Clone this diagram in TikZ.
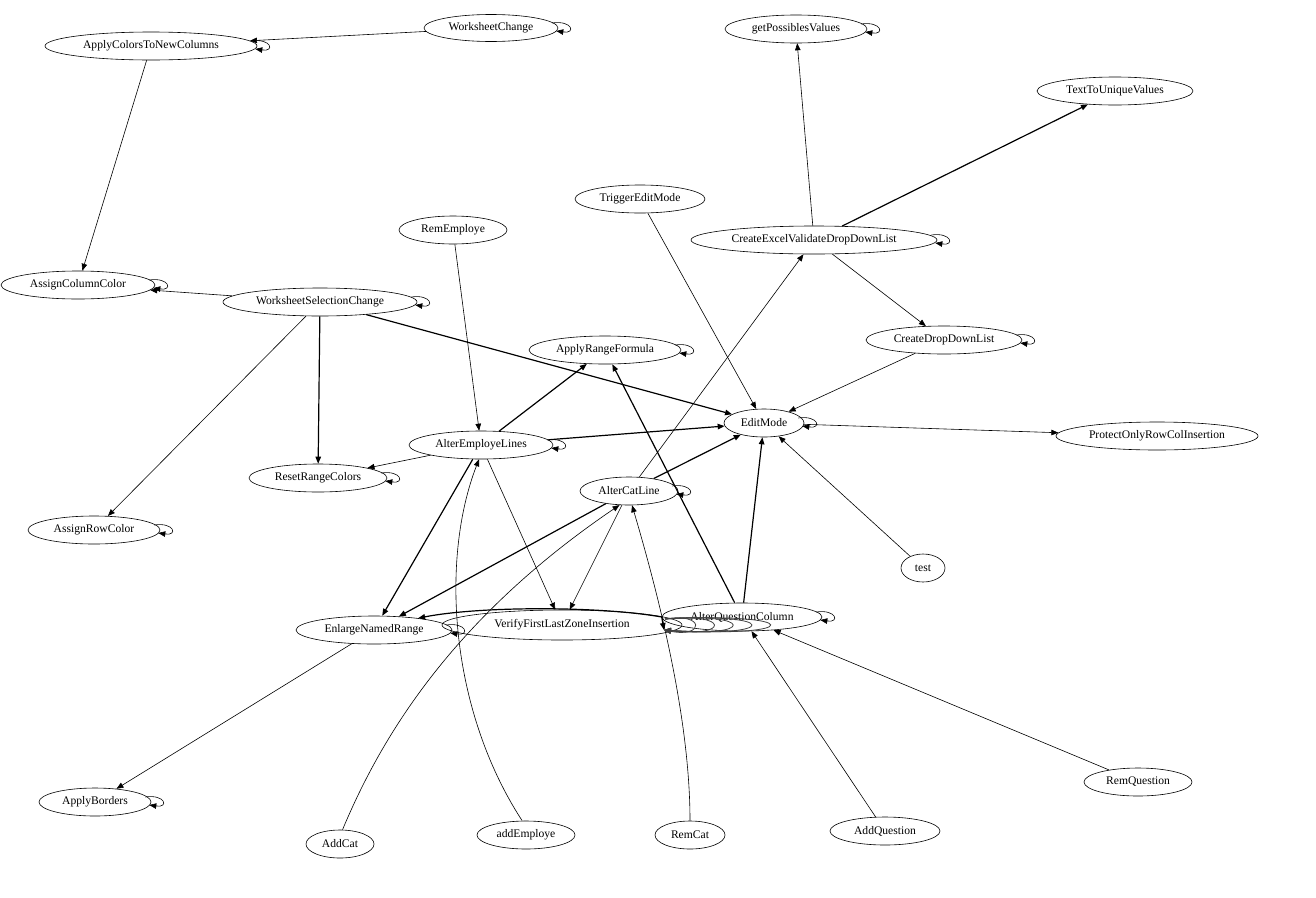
\documentclass[tikz,border=0pt]{standalone}
\usepackage{fontspec}
\setmainfont{Liberation Serif}
\usetikzlibrary{shapes.geometric,arrows.meta}
\tikzset{
 nd/.style={draw, ellipse, inner sep=0pt, line width=0.6pt, font=\fontsize{11.6}{13}\selectfont},
 edge/.style={line width=0.6pt, -{Triangle[length=7pt,width=5.5pt]}},
 bold/.style={edge, line width=1.2pt},
}
\newcommand\mknode[5]{\node[nd,minimum width=#4pt,minimum height=#5pt] (#1) at (#2) {#3};}
\newcommand\selfloop[1]{\draw[edge] ([xshift=-6pt,yshift=5pt]#1.east) .. controls +(20,-3) and +(20,3) .. ([xshift=-2pt,yshift=-3pt]#1.east);}
\begin{document}
\begin{tikzpicture}[x=1pt,y=-1pt]
\useasboundingbox (0,0) rectangle (1316,897);
\mknode{wc}{491,28}{WorksheetChange}{134}{27}
\mknode{actnc}{151,46}{ApplyColorsToNewColumns}{212}{28}
\mknode{gpv}{796,29}{getPossiblesValues}{142}{28}
\mknode{ttuv}{1115,91}{TextToUniqueValues}{156}{28}
\mknode{tem}{640,199}{TriggerEditMode}{130}{28}
\mknode{re}{453,230}{RemEmploye}{108}{28}
\mknode{cevd}{814,240}{CreateExcelValidateDropDownList}{246}{28}
\mknode{acc}{78,285}{AssignColumnColor}{154}{28}
\mknode{wsc}{320,302}{WorksheetSelectionChange}{194}{28}
\mknode{cddl}{944,340}{CreateDropDownList}{156}{28}
\mknode{arf}{605,350}{ApplyRangeFormula}{152}{28}
\mknode{em}{764,423}{EditMode}{80}{28}
\mknode{porc}{1157,436}{ProtectOnlyRowColInsertion}{202}{28}
\mknode{ael}{481,445}{AlterEmployeLines}{144}{28}
\mknode{rrc}{318,478}{ResetRangeColors}{138}{28}
\mknode{acl}{629,491}{AlterCatLine}{98}{28}
\mknode{arc}{94,530}{AssignRowColor}{132}{28}
\mknode{test}{923,568}{test}{44}{28}
\mknode{enr}{374,630}{EnlargeNamedRange}{156}{28}
\mknode{vflzi}{562,625}{VerifyFirstLastZoneInsertion}{240}{30}
\mknode{aqc}{742,617}{AlterQuestionColumn}{160}{28}
\mknode{ab}{95,802}{ApplyBorders}{112}{28}
\mknode{addcat}{340,844}{AddCat}{68}{28}
\mknode{adde}{526,835}{addEmploye}{98}{28}
\mknode{remcat}{690,835}{RemCat}{70}{28}
\mknode{addq}{885,831}{AddQuestion}{110}{28}
\mknode{remq}{1138,782}{RemQuestion}{108}{28}
\coordinate (vin) at (664,630);
\coordinate (aqs) at (665,619);
% edges
\draw[edge] (wc) -- (actnc);
\draw[edge] (actnc) -- (acc);
\draw[edge] (cevd) -- (gpv);
\draw[bold] (cevd) -- (ttuv);
\draw[edge] (cevd) -- (cddl);
\draw[edge] (cddl) -- (em);
\draw[edge] (tem) -- (em);
\draw[edge] (re) -- (ael);
\draw[edge] (wsc) -- (acc);
\draw[bold] (wsc) -- (rrc);
\draw[edge] (wsc) -- (arc);
\draw[bold] (wsc) -- (em);
\draw[bold] (ael) -- (arf);
\draw[bold] (ael) -- (em);
\draw[edge] (ael) -- (rrc);
\draw[bold] (ael) -- (enr);
\draw[edge] (ael) -- (vflzi);
\draw[edge] (adde.105) .. controls (450,710) and (440,560) .. (ael.262);
\draw[edge] (em) -- (porc);
\draw[edge] (test) -- (em);
\draw[bold] (acl) -- (em);
\draw[edge] (acl) -- (cevd);
\draw[edge] (acl) -- (vflzi);
\draw[bold] (acl) -- (enr);
\draw[edge] (addcat.80) .. controls (380,740) and (450,620) .. (acl.236);
\draw[edge] (remcat.north) .. controls (690,720) and (660,600) .. (acl.282);
\draw[bold] (aqc) -- (arf);
\draw[bold] (aqc) -- (em);
\draw[bold] (aqc.west) .. controls (600,606) and (480,606) .. (enr.15);
\foreach \xr in {705,730,755,780,805}{
  \draw[edge, line width=0.8pt, black!75] (aqs) .. controls (\xr,612) and (\xr,638) .. (vin);
}
\draw[bold] (aqc.west) -- (vin);
\draw[edge] (addq) -- (aqc);
\draw[edge] (remq) -- (aqc);
\draw[edge] (enr) -- (ab);
% self loops
\foreach \n in {wc,actnc,gpv,cevd,acc,wsc,cddl,arf,em,ael,rrc,acl,arc,enr,aqc,ab}{\selfloop{\n}}
\end{tikzpicture}
\end{document}
